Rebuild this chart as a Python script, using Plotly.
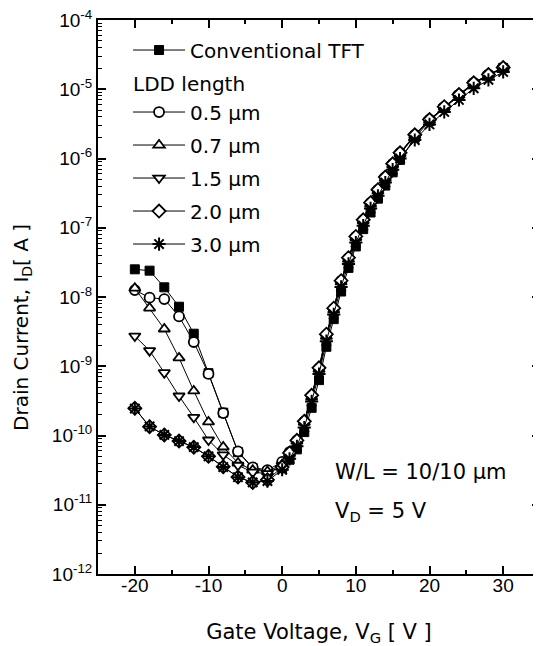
import plotly.graph_objects as go

# Gate voltage (V)
vg = [-20, -18, -16, -14, -12, -10, -8, -6, -4, -2, 0, 1, 2, 3, 4, 5, 6, 7, 8, 9,
      10, 11, 12, 13, 14, 15, 16, 18, 20, 22, 24, 26, 28, 30]

# Drain current (A)
conv = [2.51e-8, 2.40e-8, 1.38e-8, 7.24e-9, 2.95e-9, 7.94e-10, 2.14e-10, 5.75e-11, 3.39e-11, 3.02e-11,
        3.39e-11, 4.47e-11, 6.31e-11, 1.12e-10, 2.51e-10, 6.31e-10, 1.91e-9, 4.79e-9, 1.20e-8, 2.63e-8,
        5.37e-8, 9.55e-8, 1.66e-7, 2.63e-7, 4.07e-7, 6.31e-7, 9.55e-7, 2.0e-6, 3.47e-6, 5.37e-6,
        8.13e-6, 1.20e-5, 1.58e-5, 2.04e-5]
ldd05 = [1.26e-8, 9.77e-9, 9.33e-9, 5.25e-9, 2.24e-9, 7.76e-10, 2.11e-10, 5.89e-11, 3.47e-11, 3.16e-11,
         4.17e-11, 5.75e-11, 8.51e-11, 1.58e-10, 3.72e-10, 9.33e-10, 2.82e-9, 6.76e-9, 1.70e-8, 3.63e-8,
         7.41e-8, 1.29e-7, 2.29e-7, 3.51e-7, 5.37e-7, 8.32e-7, 1.20e-6, 2.19e-6, 3.63e-6, 5.55e-6,
         8.32e-6, 1.23e-5, 1.62e-5, 2.04e-5]
ldd07 = [1.34e-8, 6.93e-9, 3.45e-9, 1.32e-9, 4.40e-10, 1.57e-10, 6.82e-11, 4.01e-11, 3.16e-11, 3.02e-11,
         3.80e-11, 5.5e-11, 8.3e-11, 1.55e-10, 3.6e-10, 9.0e-10, 2.7e-9, 6.5e-9, 1.65e-8, 3.5e-8,
         7.2e-8, 1.26e-7, 2.2e-7, 3.4e-7, 5.2e-7, 8.1e-7, 1.17e-6, 2.15e-6, 3.6e-6, 5.5e-6,
         8.2e-6, 1.22e-5, 1.6e-5, 2.03e-5]
ldd15 = [2.73e-9, 1.68e-9, 8.07e-10, 3.72e-10, 1.83e-10, 8.61e-11, 5.25e-11, 3.72e-11, 2.95e-11, 2.82e-11,
         3.7e-11, 5.4e-11, 8.0e-11, 1.5e-10, 3.5e-10, 8.8e-10, 2.65e-9, 6.4e-9, 1.62e-8, 3.45e-8,
         7.1e-8, 1.24e-7, 2.2e-7, 3.4e-7, 5.2e-7, 8.0e-7, 1.16e-6, 2.12e-6, 3.55e-6, 5.45e-6,
         8.2e-6, 1.21e-5, 1.6e-5, 2.02e-5]
ldd20 = [2.47e-10, 1.34e-10, 1.02e-10, 8.32e-11, 6.76e-11, 5.01e-11, 3.55e-11, 2.51e-11, 2.09e-11, 2.29e-11,
         3.5e-11, 5.6e-11, 8.5e-11, 1.6e-10, 3.8e-10, 9.5e-10, 2.9e-9, 6.9e-9, 1.72e-8, 3.7e-8,
         7.5e-8, 1.3e-7, 2.3e-7, 3.55e-7, 5.4e-7, 8.4e-7, 1.21e-6, 2.2e-6, 3.65e-6, 5.6e-6,
         8.4e-6, 1.24e-5, 1.63e-5, 2.06e-5]
ldd30 = [2.45e-10, 1.35e-10, 1.02e-10, 8.3e-11, 6.8e-11, 5.0e-11, 3.5e-11, 2.5e-11, 2.1e-11, 2.2e-11,
         3.2e-11, 4.6e-11, 7.0e-11, 1.3e-10, 3.1e-10, 7.7e-10, 2.3e-9, 5.6e-9, 1.4e-8, 3.0e-8,
         6.1e-8, 1.07e-7, 1.9e-7, 2.9e-7, 4.5e-7, 6.9e-7, 1.0e-6, 1.85e-6, 3.1e-6, 4.7e-6,
         7.0e-6, 1.03e-5, 1.37e-5, 1.78e-5]

series_names = ["Conventional TFT", "0.5 μm", "0.7 μm", "1.5 μm", "2.0 μm", "3.0 μm"]
series_values = [conv, ldd05, ldd07, ldd15, ldd20, ldd30]
series_symbols = ["square", "circle", "triangle-up", "triangle-down", "diamond", "asterisk-open"]
series_fill = ["black", "white", "white", "white", "white", "black"]

xtick_vals = [-20, -10, 0, 10, 20, 30]
xtick_text = ["-20", "-10", "0", "10", "20", "30"]
ytick_vals = [1e-12, 1e-11, 1e-10, 1e-9, 1e-8, 1e-7, 1e-6, 1e-5, 1e-4]
ytick_text = ["10<sup>-12</sup>", "10<sup>-11</sup>", "10<sup>-10</sup>", "10<sup>-9</sup>",
              "10<sup>-8</sup>", "10<sup>-7</sup>", "10<sup>-6</sup>", "10<sup>-5</sup>",
              "10<sup>-4</sup>"]

TICKFONT = "Liberation Sans, Arial, sans-serif"
TEXTFONT = "DejaVu Sans, sans-serif"

fig = go.Figure()
for i, (name, vals, sym, fill) in enumerate(zip(series_names, series_values, series_symbols, series_fill)):
    mk = dict(symbol=sym, size=10, color=fill, line=dict(color="black", width=1.8))
    if sym == "asterisk-open":
        mk.update(size=11, line=dict(color="black", width=2))
    if sym == "square":
        mk.update(size=9, line=dict(color="black", width=1))
    kw = dict(legendgroup="g%d" % i)
    if i == 1:
        kw["legendgrouptitle"] = dict(text="LDD length", font=dict(size=20, family=TEXTFONT, color="black"))
    fig.add_trace(go.Scatter(
        x=vg, y=vals, name=name, mode="lines+markers",
        line=dict(color="black", width=1),
        marker=mk, **kw))

fig.update_layout(
    width=533, height=638,
    margin=dict(l=90, r=1, t=12, b=72),
    paper_bgcolor="white", plot_bgcolor="white",
    font=dict(family=TICKFONT, size=19, color="black"),
    showlegend=True,
    legend=dict(x=0.068, y=0.981, xanchor="left", yanchor="top",
                bgcolor="rgba(0,0,0,0)", font=dict(size=20, family=TEXTFONT, color="black"),
                tracegroupgap=4, itemwidth=52, traceorder="grouped"),
    xaxis=dict(range=[-25, 35], tickmode="array", tickvals=xtick_vals, ticktext=xtick_text,
               automargin=False,
               ticks="inside", ticklen=8, tickwidth=1.5, tickcolor="black",
               minor=dict(ticks="inside", ticklen=4, dtick=5, tick0=0, tickcolor="black", tickwidth=1.5),
               showline=True, linecolor="black", linewidth=2, mirror="ticks",
               showgrid=False, zeroline=False,
               tickfont=dict(size=19), ticklabelstandoff=-7,
               title=dict(text="Gate Voltage, V<sub>G</sub> [ V ]",
                          font=dict(size=21, family=TEXTFONT), standoff=30)),
    yaxis=dict(type="log", range=[-12, -4], tickmode="array", tickvals=ytick_vals, ticktext=ytick_text,
               automargin=False, ticklabeloverflow="allow",
               ticks="inside", ticklen=8, tickwidth=1.5, tickcolor="black",
               minor=dict(ticks="inside", ticklen=4, dtick="D1", tickcolor="black", tickwidth=1),
               showline=True, linecolor="black", linewidth=2, mirror="ticks",
               showgrid=False, zeroline=False,
               tickfont=dict(size=19)),
    annotations=[
        dict(x=-0.172, y=0.446, xref="paper", yref="paper", xanchor="center", yanchor="middle",
             text="Drain Current, I<sub>D</sub>[ A ]", textangle=-90, showarrow=False,
             font=dict(size=20, family=TEXTFONT)),
        dict(x=0.532, y=0.184, xref="paper", yref="paper", xanchor="left", yanchor="middle",
             text="W/L = 10/10 μm", showarrow=False, font=dict(size=21, family=TEXTFONT)),
        dict(x=0.532, y=0.112, xref="paper", yref="paper", xanchor="left", yanchor="middle",
             text="V<sub>D</sub> = 5 V", showarrow=False, font=dict(size=21, family=TEXTFONT)),
    ],
)

fig.write_html("out.html")
